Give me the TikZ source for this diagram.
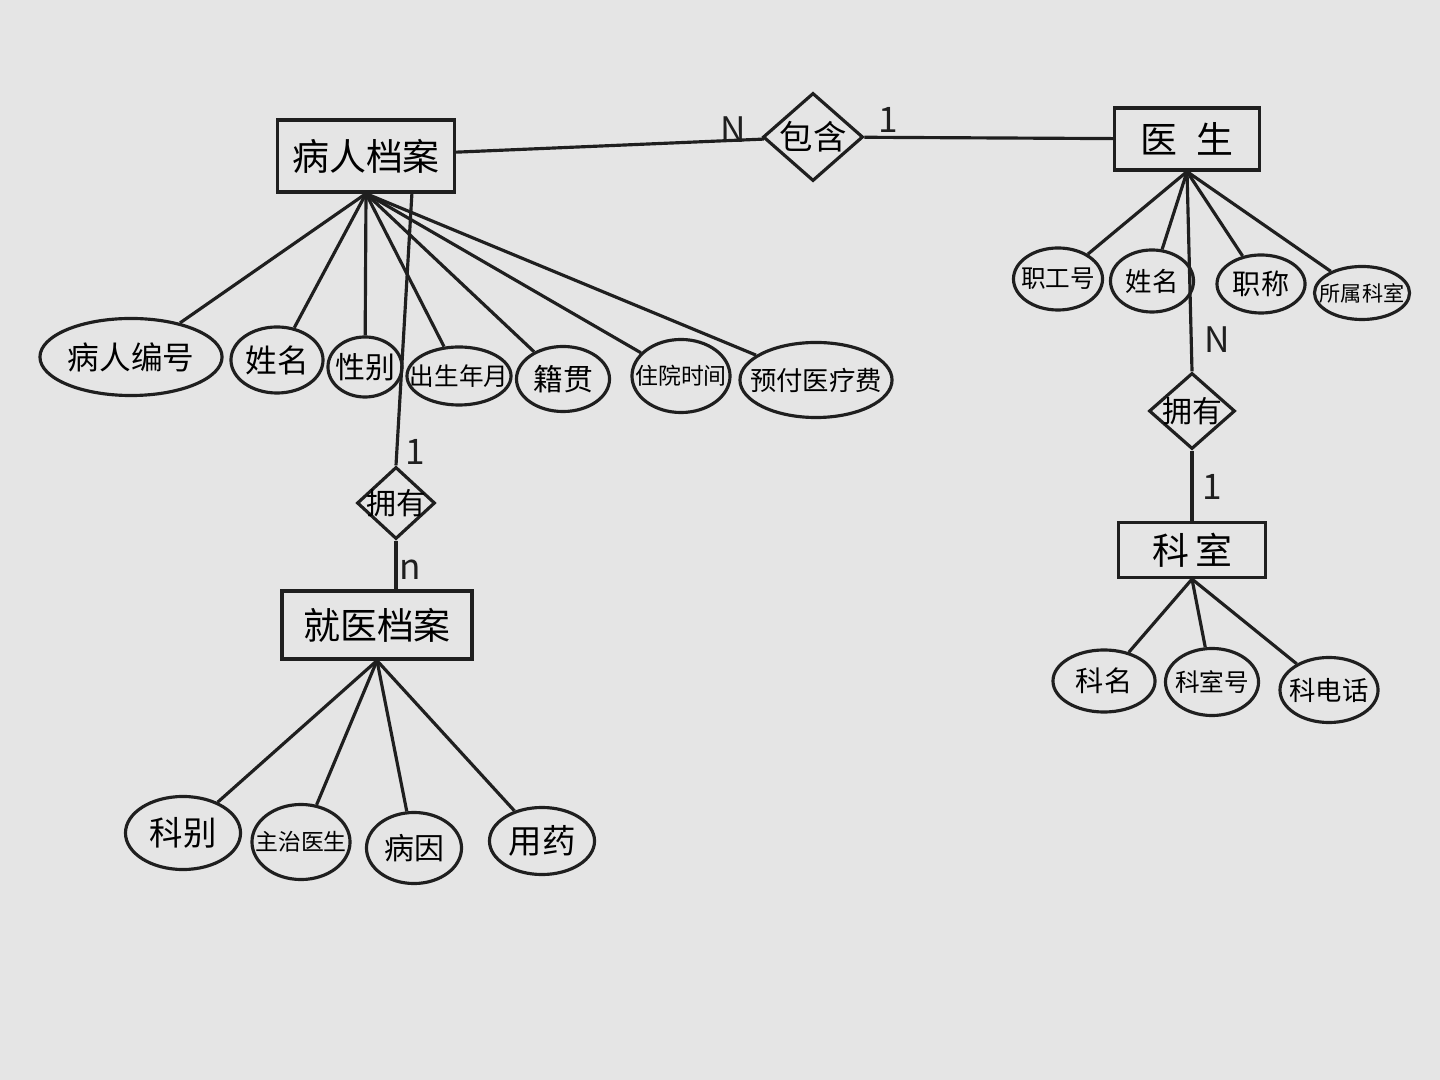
\documentclass[tikz,border=0pt]{standalone}
\usepackage{fontspec}
\newfontfamily\cjk{Noto Sans CJK SC}
\usetikzlibrary{shapes.geometric}
\begin{document}
\begin{tikzpicture}[x=0.01cm,y=-0.01cm,
  ink/.style={draw=black!88,line width=0.9pt},
  entity/.style={ink,rectangle,inner sep=0pt,font=\cjk\fontsize{10.5}{12}\selectfont},
  attr/.style={ink,ellipse,inner xsep=-8pt,inner ysep=-4pt,font=\cjk\fontsize{9}{10}\selectfont},
  rel/.style={ink,diamond,inner sep=-10pt,font=\cjk\fontsize{8.5}{10}\selectfont},
  card/.style={font=\cjk\fontsize{10}{12}\selectfont,text=black!88},
  fs/.style={font=\cjk\fontsize{#1}{#1}\selectfont}]
  \fill[black!10] (0,0) rectangle (1440,1080);
  \useasboundingbox (0,0) rectangle (1440,1080);

  % entities
  \node[entity,minimum width=1.77cm,minimum height=0.72cm] (pa) at (366,156) {病人档案};
  \node[entity,minimum width=1.45cm,minimum height=0.62cm] (ys) at (1187,139) {医\enspace 生};
  \node[entity,minimum width=1.90cm,minimum height=0.68cm] (jy) at (377,625) {就医档案};
  \node[entity,minimum width=1.47cm,minimum height=0.55cm] (ks) at (1192,550) {科\,室};

  % relationships
  \node[rel,minimum width=1.00cm,minimum height=0.88cm,fs=9.5] (bh) at (813,137) {包含};
  \node[rel,minimum width=0.78cm,minimum height=0.72cm] (yy1) at (396,503) {拥有};
  \node[rel,minimum width=0.86cm,minimum height=0.76cm] (yy2) at (1192,411) {拥有};

  % attributes of 病人档案
  \node[attr,minimum width=1.82cm,minimum height=0.77cm] (a1) at (131,357) {病人编号};
  \node[attr,minimum width=0.92cm,minimum height=0.66cm] (a2) at (277,360) {姓名};
  \node[attr,minimum width=0.74cm,minimum height=0.60cm,fs=8.5] (a3) at (365,367) {性别};
  \node[attr,minimum width=1.04cm,minimum height=0.58cm,fs=7] (a4) at (459,376) {出生年月};
  \node[attr,minimum width=0.93cm,minimum height=0.65cm,fs=8.5] (a5) at (563,379) {籍贯};
  \node[attr,minimum width=0.98cm,minimum height=0.73cm,fs=6.5] (a6) at (681,376) {住院时间};
  \node[attr,minimum width=1.52cm,minimum height=0.75cm,fs=7.5] (a7) at (816,380) {预付医疗费};

  % attributes of 就医档案
  \node[attr,minimum width=1.15cm,minimum height=0.73cm,fs=9.5] (b1) at (183,833) {科别};
  \node[attr,minimum width=0.98cm,minimum height=0.75cm,fs=6.5] (b2) at (301,842) {主治医生};
  \node[attr,minimum width=0.95cm,minimum height=0.71cm,fs=8.5] (b3) at (414,848) {病因};
  \node[attr,minimum width=1.05cm,minimum height=0.67cm,fs=9.5] (b4) at (542,841) {用药};

  % attributes of 医生
  \node[attr,minimum width=0.89cm,minimum height=0.62cm,fs=7] (c1) at (1058,279) {职工号};
  \node[attr,minimum width=0.83cm,minimum height=0.62cm,fs=7.5] (c2) at (1152,281) {姓名};
  \node[attr,minimum width=0.88cm,minimum height=0.58cm,fs=8] (c3) at (1261,284) {职称};
  \node[attr,minimum width=0.95cm,minimum height=0.53cm,fs=6] (c4) at (1362,293) {所属科室};

  % attributes of 科室
  \node[attr,minimum width=1.02cm,minimum height=0.62cm,fs=8] (d1) at (1104,681) {科名};
  \node[attr,minimum width=0.93cm,minimum height=0.67cm,fs=7] (d2) at (1212,682) {科室号};
  \node[attr,minimum width=0.98cm,minimum height=0.65cm,fs=7.5] (d3) at (1329,690) {科电话};

  % cardinalities
  \node[card] (nbh) at (733,130) {N};
  \node[card] (obh) at (888,120) {1};
  \node[card] (oyy1) at (415,452) {1};
  \node[card] (nyy1) at (410,570) {n};
  \node[card] (nyy2) at (1217,340) {N};
  \node[card] (oyy2) at (1212,487) {1};

  % connectors
  \draw[ink] (pa) -- (bh);
  \draw[ink] (bh) -- (ys);
  \coordinate (pa1) at (412,192);
  \draw[ink] (pa1) -- (yy1.north);
  \draw[ink] (yy1.south) -- (jy.north -| yy1.south);
  \draw[ink] (ys.south) -- (yy2.north);
  \draw[ink] (yy2) -- (ks);
  \foreach \a in {a1,a2,a3,a4,a5,a6,a7}
    \draw[ink] (pa.south) -- (\a);
  \foreach \a in {b1,b2,b3,b4}
    \draw[ink] (jy.south) -- (\a);
  \foreach \a in {c1,c2,c3,c4}
    \draw[ink] (ys.south) -- (\a);
  \foreach \a in {d1,d2,d3}
    \draw[ink] (ks.south) -- (\a);
\end{tikzpicture}
\end{document}
